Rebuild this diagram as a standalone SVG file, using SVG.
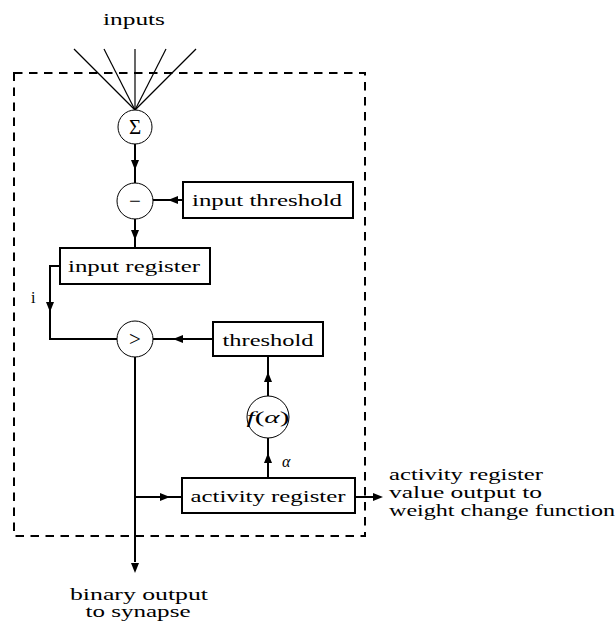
<svg xmlns="http://www.w3.org/2000/svg" width="615" height="626" viewBox="0 0 615 626">
  <defs>
    <marker id="arr" viewBox="0 0 10 8" refX="10" refY="4" markerWidth="10" markerHeight="8" markerUnits="userSpaceOnUse" orient="auto">
      <path d="M0,0 L10,4 L0,8 z" fill="#000"/>
    </marker>
  </defs>
  <style>
    text { font-family: "Liberation Serif", "Times New Roman", serif; font-size: 16px; fill: #000; }
    .mid { text-anchor: middle; }
    .box { fill: #fff; stroke: #000; stroke-width: 2; }
    .op { fill: #fff; stroke: #000; stroke-width: 1; }
    .wire { fill: none; stroke: #000; stroke-width: 2; }
    .fan { fill: none; stroke: #000; stroke-width: 1.2; }
    .head { fill: none; stroke: none; }
    .frame { fill: none; stroke: #000; stroke-width: 2; stroke-dasharray: 8.5 6.5; }
    .it { font-style: italic; }
    .sym { font-size: 21px; }
  </style>

  <!-- neuron boundary -->
  <rect id="neuron" class="frame" x="14" y="73" width="351" height="463"/>

  <!-- connectors -->
  <g id="connectors">
    <!-- input fan into the summation -->
    <g class="fan">
      <line x1="74" y1="49" x2="135" y2="110"/>
      <line x1="104" y1="49" x2="135" y2="110"/>
      <line x1="135" y1="49" x2="135" y2="110"/>
      <line x1="166" y1="49" x2="135" y2="110"/>
      <line x1="196" y1="49" x2="135" y2="110"/>
    </g>
    <!-- sum -> subtract -->
    <line class="wire" x1="135" y1="144" x2="135" y2="183"/>
    <line class="head" x1="135" y1="158" x2="135" y2="170" marker-end="url(#arr)"/>
    <!-- input threshold -> subtract -->
    <line class="wire" x1="183" y1="200" x2="153" y2="200"/>
    <line class="head" x1="182" y1="200" x2="168" y2="200" marker-end="url(#arr)"/>
    <!-- subtract -> input register -->
    <line class="wire" x1="135" y1="219" x2="135" y2="248"/>
    <line class="head" x1="135" y1="228" x2="135" y2="240" marker-end="url(#arr)"/>
    <!-- input register -> compare (i) -->
    <path class="wire" d="M60,266 H50 V339 H117"/>
    <line class="head" x1="50" y1="300" x2="50" y2="312" marker-end="url(#arr)"/>
    <!-- threshold -> compare -->
    <line class="wire" x1="213" y1="339" x2="153" y2="339"/>
    <line class="head" x1="185" y1="339" x2="173" y2="339" marker-end="url(#arr)"/>
    <!-- f(alpha) -> threshold -->
    <line class="wire" x1="268" y1="396" x2="268" y2="356"/>
    <line class="head" x1="268" y1="384" x2="268" y2="372" marker-end="url(#arr)"/>
    <!-- activity register -> f(alpha) -->
    <line class="wire" x1="268" y1="478" x2="268" y2="438"/>
    <line class="head" x1="268" y1="465" x2="268" y2="453" marker-end="url(#arr)"/>
    <!-- compare -> binary output -->
    <line class="wire" x1="135" y1="357" x2="135" y2="562"/>
    <line class="head" x1="135" y1="560" x2="135" y2="573" marker-end="url(#arr)"/>
    <!-- output branch -> activity register -->
    <line class="wire" x1="135" y1="497" x2="182" y2="497"/>
    <line class="head" x1="158" y1="497" x2="170" y2="497" marker-end="url(#arr)"/>
    <!-- activity register -> weight change function -->
    <line class="wire" x1="355" y1="497" x2="374" y2="497"/>
    <line class="head" x1="371" y1="497" x2="383" y2="497" marker-end="url(#arr)"/>
  </g>

  <!-- external labels -->
  <text class="mid" x="134" y="25" textLength="62" lengthAdjust="spacingAndGlyphs">inputs</text>
  <text x="31" y="303">i</text>
  <text class="it" x="282" y="467">α</text>
  <g id="weight-output-label">
    <text x="389" y="480" textLength="154" lengthAdjust="spacingAndGlyphs">activity register</text>
    <text x="389" y="498" textLength="153" lengthAdjust="spacingAndGlyphs">value output to</text>
    <text x="389" y="516" textLength="226" lengthAdjust="spacingAndGlyphs">weight change function</text>
  </g>
  <g id="binary-output-label">
    <text class="mid" x="139" y="600" textLength="138" lengthAdjust="spacingAndGlyphs">binary output</text>
    <text class="mid" x="138" y="617" textLength="105" lengthAdjust="spacingAndGlyphs">to synapse</text>
  </g>

  <!-- nodes -->
  <g id="sum">
    <circle class="op" cx="135" cy="127" r="17"/>
    <text class="mid sym" x="135" y="134">Σ</text>
  </g>
  <g id="subtract">
    <circle class="op" cx="135" cy="201" r="18"/>
    <text class="mid sym" x="135" y="208">−</text>
  </g>
  <g id="input-threshold">
    <rect class="box" x="183" y="182" width="170" height="36"/>
    <text class="mid" x="267" y="206" textLength="150" lengthAdjust="spacingAndGlyphs">input threshold</text>
  </g>
  <g id="input-register">
    <rect class="box" x="60" y="248" width="150" height="36"/>
    <text class="mid" x="134" y="272" textLength="132" lengthAdjust="spacingAndGlyphs">input register</text>
  </g>
  <g id="compare">
    <circle class="op" cx="135" cy="339" r="18"/>
    <text class="mid sym" x="135" y="346">&gt;</text>
  </g>
  <g id="threshold">
    <rect class="box" x="213" y="322" width="110" height="34"/>
    <text class="mid" x="268" y="346" textLength="91" lengthAdjust="spacingAndGlyphs">threshold</text>
  </g>
  <g id="f-alpha">
    <circle class="op" cx="268" cy="417" r="21"/>
    <text class="mid" x="268" y="423" textLength="43" lengthAdjust="spacingAndGlyphs"><tspan class="it">f</tspan>(<tspan class="it">α</tspan>)</text>
  </g>
  <g id="activity-register">
    <rect class="box" x="182" y="478" width="173" height="35"/>
    <text class="mid" x="268" y="502" textLength="155" lengthAdjust="spacingAndGlyphs">activity register</text>
  </g>
</svg>
